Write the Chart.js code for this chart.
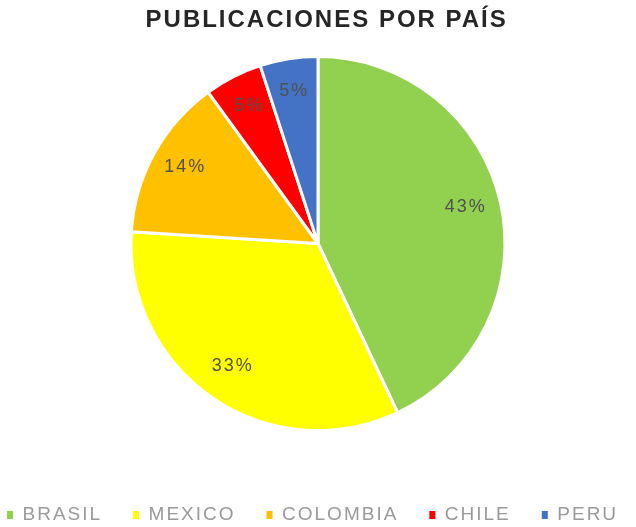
<!DOCTYPE html>
<html>
<head>
<meta charset="utf-8">
<script src="https://cdn.jsdelivr.net/npm/chart.js@4"></script>
<style>
  html, body { margin: 0; padding: 0; background: #fff; }
  #wrap { width: 636px; height: 527px; }
</style>
</head>
<body>
<div id="wrap"><canvas id="chart" width="636" height="527"></canvas></div>
<script>
const countries = ['BRASIL', 'MEXICO', 'COLOMBIA', 'CHILE', 'PERU'];
const shares = [43, 33, 14, 5, 5];
const sliceColors = ['#92D050', '#FFFF00', '#FFC000', '#FF0000', '#4472C4'];
const chartTitle = 'PUBLICACIONES POR PAÍS';

// canvas letter spacing gets reset on resize, so set it before each pass
const spacing = {
  id: 'spacing',
  beforeUpdate(chart) { chart.ctx.letterSpacing = '2px'; },
  beforeDraw(chart) { chart.ctx.letterSpacing = '2px'; }
};

// percent labels inside each slice
const sliceLabels = {
  id: 'sliceLabels',
  afterDatasetsDraw(chart) {
    const ctx = chart.ctx;
    const meta = chart.getDatasetMeta(0);
    ctx.save();
    ctx.font = '18px Arial';
    ctx.fillStyle = '#505050';
    ctx.textAlign = 'center';
    ctx.textBaseline = 'middle';
    meta.data.forEach((arc, i) => {
      const p = arc.getProps(['x', 'y', 'startAngle', 'endAngle', 'outerRadius']);
      const mid = (p.startAngle + p.endAngle) / 2;
      const r = p.outerRadius * 0.81;
      ctx.fillText(shares[i] + '%', p.x + Math.cos(mid) * r, p.y + Math.sin(mid) * r - 3);
    });
    ctx.restore();
  }
};

new Chart(document.getElementById('chart'), {
  type: 'pie',
  data: {
    labels: countries,
    datasets: [{
      data: shares,
      backgroundColor: sliceColors,
      borderColor: '#ffffff',
      borderWidth: 3,
      radius: 187
    }]
  },
  options: {
    responsive: false,
    animation: false,
    layout: { padding: { left: -24, right: -24, bottom: -7.5 } },
    plugins: {
      tooltip: { enabled: false },
      title: {
        display: true,
        text: '  ' + chartTitle,
        color: '#262626',
        font: { family: 'Arial', size: 24, weight: 'bold' },
        padding: { top: 6, bottom: 22 }
      },
      legend: {
        position: 'bottom',
        align: 'start',
        title: { display: true, text: '', font: { size: 10, lineHeight: 1 }, padding: { top: 34.3, bottom: 0 } },
        labels: {
          boxWidth: 6,
          boxHeight: 8,
          padding: 31,
          color: '#9a9a9a',
          font: { family: 'Arial', size: 19 },
          // no white outline on the little squares
          generateLabels(chart) {
            const items = Chart.overrides.pie.plugins.legend.labels.generateLabels(chart);
            items.forEach(it => { it.lineWidth = 0; });
            return items;
          }
        }
      }
    }
  },
  plugins: [spacing, sliceLabels]
});
</script>
</body>
</html>
